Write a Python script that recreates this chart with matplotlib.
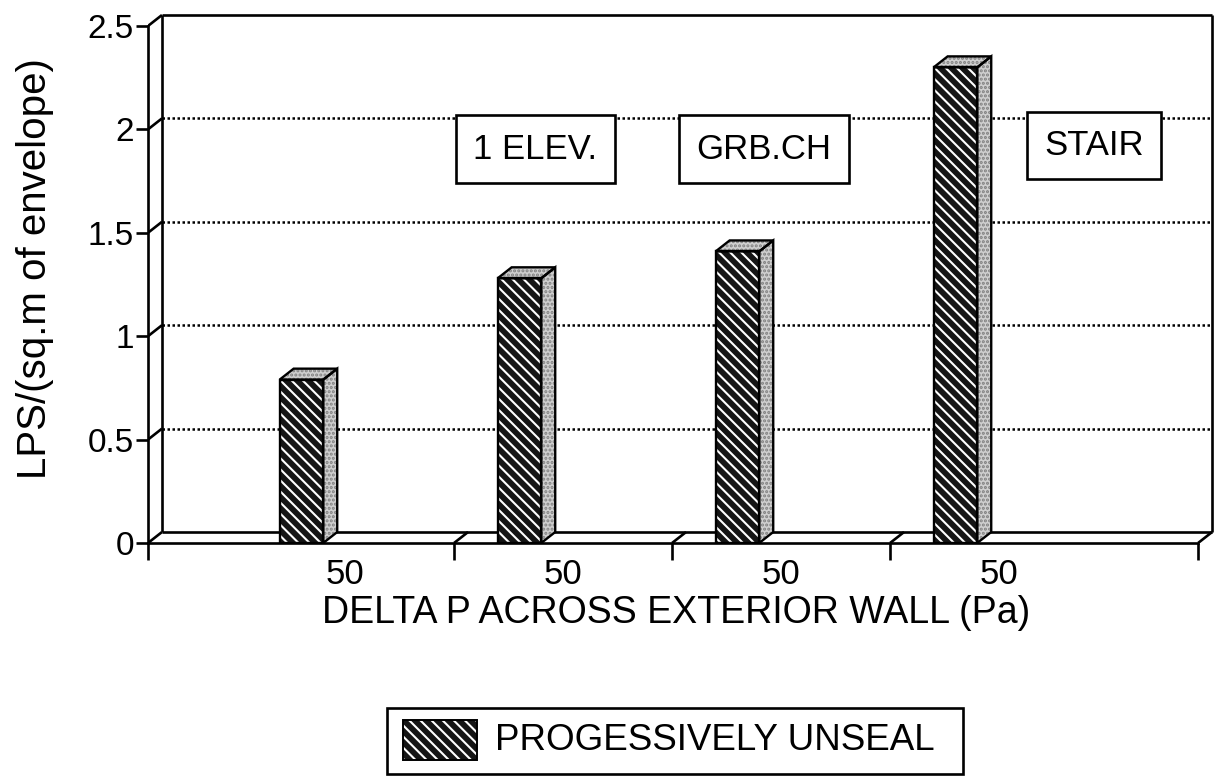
import numpy as np
import matplotlib
matplotlib.use("Agg")
import matplotlib.pyplot as plt
from matplotlib.patches import Polygon, Rectangle

plt.rcParams["font.family"] = ["Liberation Sans", "DejaVu Sans"]
plt.rcParams["hatch.linewidth"] = 1.5

# data
categories = ["1 ELEV.", "GRB.CH", "STAIR"]
tick_labels = ["50", "50", "50", "50"]
values = [0.79, 1.28, 1.41, 2.30]
series_name = "PROGESSIVELY UNSEAL"
y_ticks = [0, 0.5, 1, 1.5, 2, 2.5]
y_tick_labels = ["0", "0.5", "1", "1.5", "2", "2.5"]

# geometry of the fake 3D box (data units)
x0, x1 = -0.904, 3.913
dx, dy = 0.064, 0.053
bar_w = 0.2
bar_off = -0.2

fig = plt.figure(figsize=(12.16, 7.79), dpi=100)
ax = fig.add_axes([148 / 1216, 236 / 779, 1066.9 / 1216, 537.7 / 779])
ax.set_xlim(x0, 3.99)
ax.set_ylim(0, 2.6)

for s in ["top", "right"]:
    ax.spines[s].set_visible(False)
ax.spines["left"].set_bounds(0, 2.5)
ax.spines["bottom"].set_bounds(x0, x1)
for s in ["left", "bottom"]:
    ax.spines[s].set_linewidth(1.9)

lk = dict(color="black", lw=1.9, solid_capstyle="butt")
# back wall and floor
ax.plot([x0 + dx, x0 + dx], [dy, 2.5 + dy], **lk)
ax.plot([x0 + dx, x1 + dx], [2.5 + dy, 2.5 + dy], **lk)
ax.plot([x1 + dx, x1 + dx], [dy, 2.5 + dy], **lk)
ax.plot([x0 + dx, x1 + dx], [dy, dy], **lk)
# connectors on the left wall
for v in y_ticks:
    ax.plot([x0, x0 + dx], [v, v + dy], **lk)
# dotted grid on the back wall
for v in y_ticks[1:-1]:
    ax.plot([x0 + dx, x1 + dx], [v + dy, v + dy], color="black", lw=1.8,
            ls=(0, (1, 1)), zorder=1)
# floor connectors at the category separators
for t in [0.5, 1.5, 2.5, x1]:
    ax.plot([t, t + dx], [0, dy], **lk)

# ticks
ax.set_yticks(y_ticks)
ax.set_yticklabels(y_tick_labels, fontsize=24)
ax.tick_params(axis="y", length=9, width=1.9, pad=1)
ax.set_xticks(range(len(tick_labels)))
ax.set_xticklabels(tick_labels, fontsize=25)
ax.set_xticks([x0, 0.5, 1.5, 2.5, x1], minor=True)
ax.tick_params(axis="x", which="major", length=0, pad=11)
ax.tick_params(axis="x", which="minor", length=12, width=1.9)

ax.set_xlabel("DELTA P ACROSS EXTERIOR WALL (Pa)", fontsize=27)
ax.xaxis.set_label_coords(0.495, -0.096)
ax.set_ylabel("LPS/(sq.m of envelope)", fontsize=29)
ax.yaxis.set_label_coords(-0.088, 0.51)

# bars: hatched front face + shaded side and top
xs = np.arange(len(values)) + bar_off
ax.bar(xs, values, width=bar_w, color="#151515", edgecolor="white",
       hatch="\\\\\\", linewidth=0, zorder=3)
ax.bar(xs, values, width=bar_w, fill=False, edgecolor="black",
       linewidth=1.7, zorder=4)
for x, v in zip(xs, values):
    r = x + bar_w / 2
    l = x - bar_w / 2
    side = [(r, 0), (r + dx, dy), (r + dx, v + dy), (r, v)]
    top = [(l, v), (l + dx, v + dy), (r + dx, v + dy), (r, v)]
    for pts in (side, top):
        ax.add_patch(Polygon(pts, closed=True, facecolor="#cfcfcf",
                             edgecolor="#808080", hatch="....", lw=0, zorder=3))
        ax.add_patch(Polygon(pts, closed=True, fill=False,
                             edgecolor="black", lw=1.7, zorder=4))

# category boxes
box_pos = [(0.872, 1.905), (1.922, 1.905), (3.436, 1.922)]
for (bx, by), name in zip(box_pos, categories):
    ax.text(bx, by, name, fontsize=25, ha="center", va="center", zorder=5,
            bbox=dict(boxstyle="square,pad=0.5", facecolor="white",
                      edgecolor="black", lw=1.9))

# legend box (cut off by the bottom edge like the scan)
W, H = 1216, 779
fig.patches.append(Rectangle((387 / W, 5 / H), (963 - 387) / W, (71 - 5) / H,
                             transform=fig.transFigure, fill=False,
                             edgecolor="black", lw=1.9))
fig.patches.append(Rectangle((403 / W, 19 / H), 74 / W, 40 / H,
                             transform=fig.transFigure, facecolor="#151515",
                             edgecolor="white", hatch="\\\\\\", lw=0))
fig.patches.append(Rectangle((403 / W, 19 / H), 74 / W, 40 / H,
                             transform=fig.transFigure, fill=False,
                             edgecolor="black", lw=1.4))
fig.text(495 / W, 39 / H, series_name, fontsize=26.5, ha="left", va="center")

fig.savefig("out.png", dpi=100)
